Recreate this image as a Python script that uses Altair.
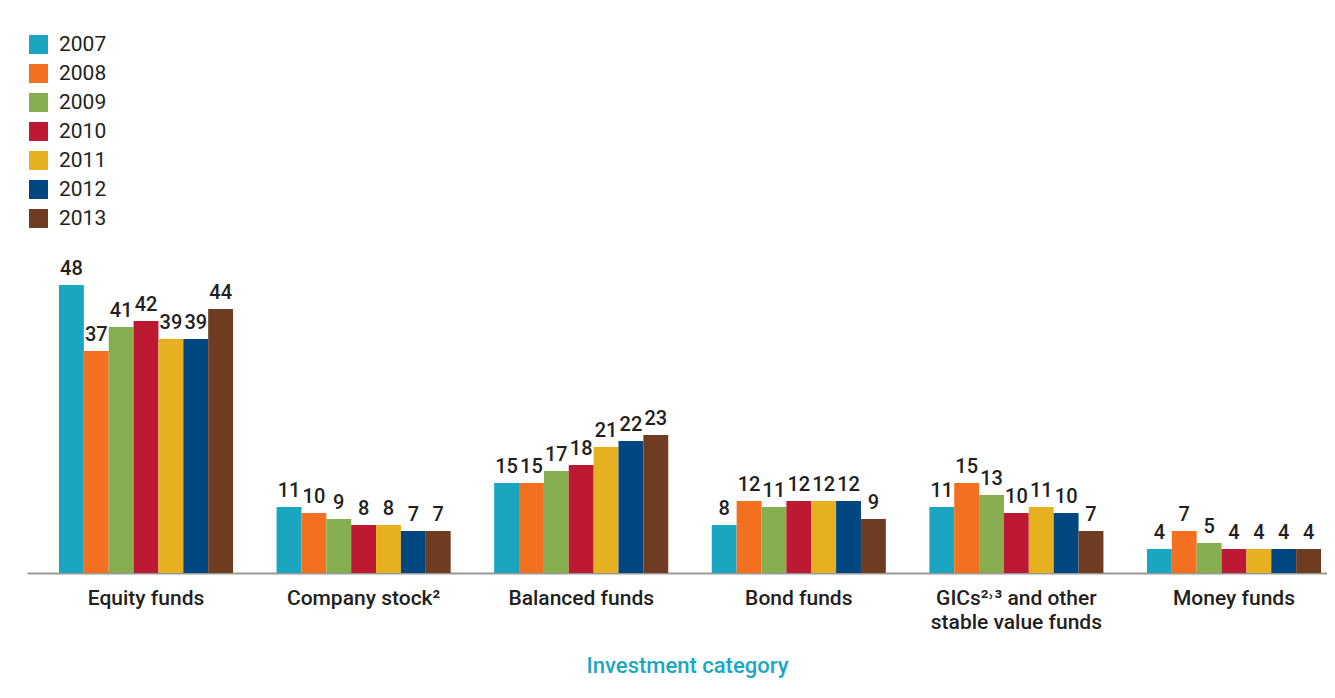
import altair as alt
import pandas as pd

categories = ["Equity funds", "Company stock²", "Balanced funds", "Bond funds",
              "GICs²˒³ and other|stable value funds", "Money funds"]
years = ["2007", "2008", "2009", "2010", "2011", "2012", "2013"]
equity = [48, 37, 41, 42, 39, 39, 44]
company = [11, 10, 9, 8, 8, 7, 7]
balanced = [15, 15, 17, 18, 21, 22, 23]
bond = [8, 12, 11, 12, 12, 12, 9]
gics = [11, 15, 13, 10, 11, 10, 7]
money = [4, 7, 5, 4, 4, 4, 4]
colors = ["#1aa6c0", "#f37021", "#86ad4f", "#be1932", "#e6b021", "#004680", "#6f3b21"]

series = [equity, company, balanced, bond, gics, money]
rows = []
for cat, vals in zip(categories, series):
    for yr, v in zip(years, vals):
        rows.append({"category": cat, "year": yr, "value": v})
df = pd.DataFrame(rows)

FONT = "Roboto, DejaVu Sans Condensed, sans-serif"
INK = "#231f20"

x = alt.X(
    "category:N", sort=categories,
    scale=alt.Scale(paddingInner=0.2, paddingOuter=0.147),
    axis=alt.Axis(
        title="Investment category", labelExpr="split(datum.label, '|')",
        labelAngle=0, domain=True, domainColor="#9a9a9a", domainWidth=2,
        ticks=False, labelPadding=14, labelLimit=0,
        labelFontSize=21, labelFont=FONT, labelFontWeight=500, labelColor=INK,
        labelLineHeight=24, titleFont=FONT, titleFontSize=22, titleFontWeight=500,
        titleColor="#1ba6c1", titlePadding=23, titleX=660,
    ),
)
xo = alt.XOffset("year:N", sort=years)
y = alt.Y("value:Q", scale=alt.Scale(domain=[0, 91], nice=False), axis=None)

bars = alt.Chart(df).mark_bar().encode(
    x=x, xOffset=xo, y=y,
    color=alt.Color(
        "year:N", sort=years, scale=alt.Scale(domain=years, range=colors),
        legend=alt.Legend(
            orient="none", legendX=1, legendY=7, title=None, symbolType="square",
            symbolSize=361, symbolStrokeWidth=0, symbolOpacity=1, labelFontSize=21,
            labelFont=FONT, labelColor=INK, rowPadding=7, labelOffset=10,
        ),
    ),
)

labels = alt.Chart(df).mark_text(
    dy=-6, baseline="bottom", fontSize=20, fontWeight=500, font=FONT, color=INK
).encode(x=x, xOffset=xo, y=y, text="value:Q")

chart = (
    alt.layer(bars, labels)
    .properties(
        width=1326, height=546,
        padding={"left": 19, "top": 19, "right": -26, "bottom": 111},
        autosize=alt.AutoSizeParams(type="none"),
    )
    .configure(background="white")
    .configure_view(stroke=None)
)

chart.save("out.html", embed_options={"renderer": "svg", "actions": False})
